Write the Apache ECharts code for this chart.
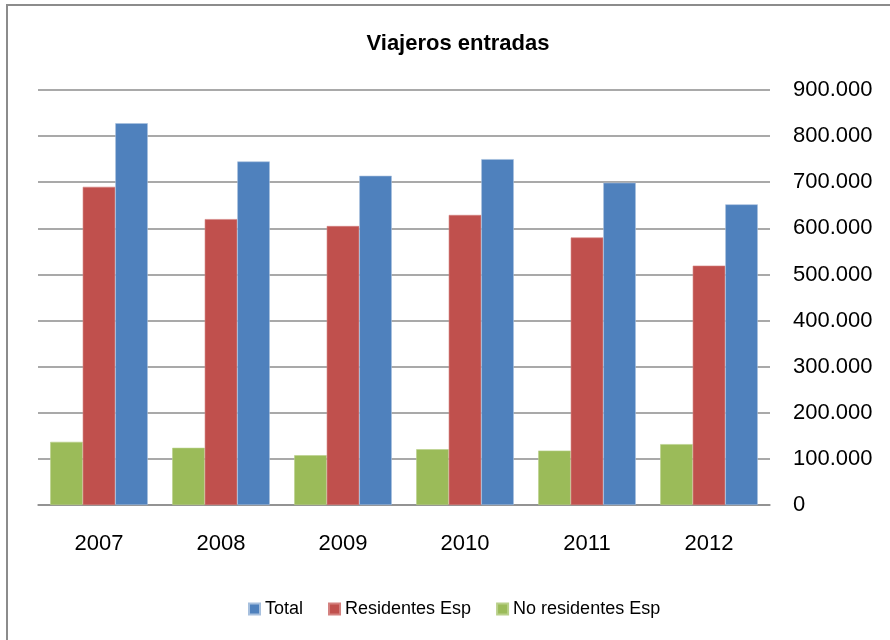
<!DOCTYPE html>
<html>
<head>
<meta charset="utf-8">
<script src="https://cdn.jsdelivr.net/npm/echarts@6/dist/echarts.min.js"></script>
<style>
  html, body { margin: 0; padding: 0; background: #fff; }
  #chart { width: 890px; height: 640px; }
</style>
</head>
<body>
<div id="chart"></div>
<script>
// Viajeros entradas por año
const years = ['2007', '2008', '2009', '2010', '2011', '2012'];
const total = [828000, 745000, 714000, 750000, 699000, 652000];
const residentes = [690000, 620000, 605000, 629000, 580000, 519000];
const noResidentes = [137000, 124000, 108000, 121000, 118000, 132000];

const FONT = '"Liberation Sans", Arial, sans-serif';
const GRID_COLOR = '#8c8c8c';

function fmtMiles(v) {
  return String(v).replace(/\B(?=(\d{3})+(?!\d))/g, '.');
}

const chart = echarts.init(document.getElementById('chart'), null, { renderer: 'canvas' });

chart.setOption({
  animation: false,
  backgroundColor: '#ffffff',
  textStyle: { fontFamily: FONT },
  title: {
    text: 'Viajeros entradas',
    left: 453,
    textAlign: 'center',
    top: 28,
    textStyle: { fontFamily: FONT, fontSize: 22, fontWeight: 'bold', color: '#000' }
  },
  legend: {
    data: ['Total', 'Residentes Esp', 'No residentes Esp'],
    left: 243,
    top: 595,
    itemWidth: 11,
    itemHeight: 11,
    itemGap: 25,
    icon: 'rect',
    textStyle: { fontFamily: FONT, fontSize: 18, color: '#000' }
  },
  grid: { left: 38, right: 120, top: 90, bottom: 135 },
  xAxis: {
    type: 'category',
    data: years,
    axisLine: { show: true, lineStyle: { color: GRID_COLOR, width: 1.5 } },
    axisTick: { show: false },
    axisLabel: { fontFamily: FONT, fontSize: 22, color: '#000', margin: 28 }
  },
  yAxis: {
    type: 'value',
    position: 'right',
    min: 0,
    max: 900000,
    interval: 100000,
    axisLine: { show: false },
    axisTick: { show: false },
    splitLine: { show: true, lineStyle: { color: GRID_COLOR, width: 1.5 } },
    axisLabel: {
      fontFamily: FONT, fontSize: 22, color: '#000', margin: 23,
      formatter: fmtMiles
    }
  },
  series: [
    {
      name: 'No residentes Esp',
      type: 'bar',
      data: noResidentes,
      barGap: '0%',
      barCategoryGap: '20%',
      itemStyle: { color: '#9BBB59', borderColor: '#b9d08a', borderWidth: 0.6 }
    },
    {
      name: 'Residentes Esp',
      type: 'bar',
      data: residentes,
      barGap: '0%',
      barCategoryGap: '20%',
      itemStyle: { color: '#C0504D', borderColor: '#d4817f', borderWidth: 0.6 }
    },
    {
      name: 'Total',
      type: 'bar',
      data: total,
      barGap: '0%',
      barCategoryGap: '20%',
      itemStyle: { color: '#4F81BD', borderColor: '#a7c0de', borderWidth: 0.6 }
    }
  ],
  graphic: [
    {
      type: 'rect',
      shape: { x: 7, y: 5, width: 900, height: 700 },
      style: { fill: 'none', stroke: GRID_COLOR, lineWidth: 2 },
      silent: true
    }
  ]
});
</script>
</body>
</html>
